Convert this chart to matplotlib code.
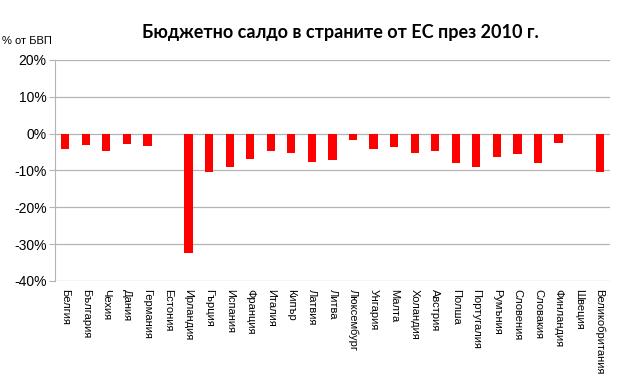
import numpy as np
import matplotlib.pyplot as plt
from matplotlib.ticker import FuncFormatter

# Бюджетно салдо, % от БВП, 2010
countries = ["Белгия", "България", "Чехия", "Дания", "Германия", "Естония",
             "Ирландия", "Гърция", "Испания", "Франция", "Италия", "Кипър",
             "Латвия", "Литва", "Люксембург", "Унгария", "Малта", "Холандия",
             "Австрия", "Полша", "Португалия", "Румъния", "Словения", "Словакия",
             "Финландия", "Швеция", "Великобритания"]
saldo = [-4.1, -3.2, -4.7, -2.7, -3.3, 0.0, -32.4, -10.5, -9.2, -7.0, -4.6, -5.3,
         -7.7, -7.1, -1.7, -4.2, -3.6, -5.4, -4.6, -7.9, -9.1, -6.4, -5.6, -7.9,
         -2.5, 0.0, -10.4]

plt.rcParams['font.family'] = ['Liberation Sans', 'DejaVu Sans']

fig = plt.figure(figsize=(6.18, 3.79), dpi=100)
ax = fig.add_axes([0.089, 0.2586, 0.898, 0.5834])

x = np.arange(len(countries))
ax.bar(x, saldo, width=0.4, color='#ff0000', zorder=3)

ax.set_xlim(-0.5, len(countries) - 0.5)
ax.set_ylim(-40, 20)
ax.set_yticks(np.arange(-40, 21, 10))
ax.yaxis.set_major_formatter(FuncFormatter(lambda v, p: f"{int(v)}%"))
ax.grid(axis='y', color='#b4b4b4', linewidth=0.9, zorder=0)
ax.tick_params(axis='y', labelsize=10, length=4, color='#b4b4b4', pad=2)
ax.set_xticks(x)
ax.set_xticklabels(countries, rotation=-90, fontsize=8, va='top', ha='center')
ax.tick_params(axis='x', length=0, pad=6)
for s in ['top', 'right', 'bottom']:
    ax.spines[s].set_visible(False)
ax.spines['left'].set_color('#b4b4b4')

fig.text(0.55, 0.915, "Бюджетно салдо в страните от ЕС през 2010 г.",
         ha='center', va='center', fontsize=13, fontweight='bold',
         family=['Lato', 'DejaVu Sans'])
fig.text(0.003, 0.893, "% от БВП", ha='left', va='center', fontsize=8)

fig.savefig('out.png', dpi=100)
